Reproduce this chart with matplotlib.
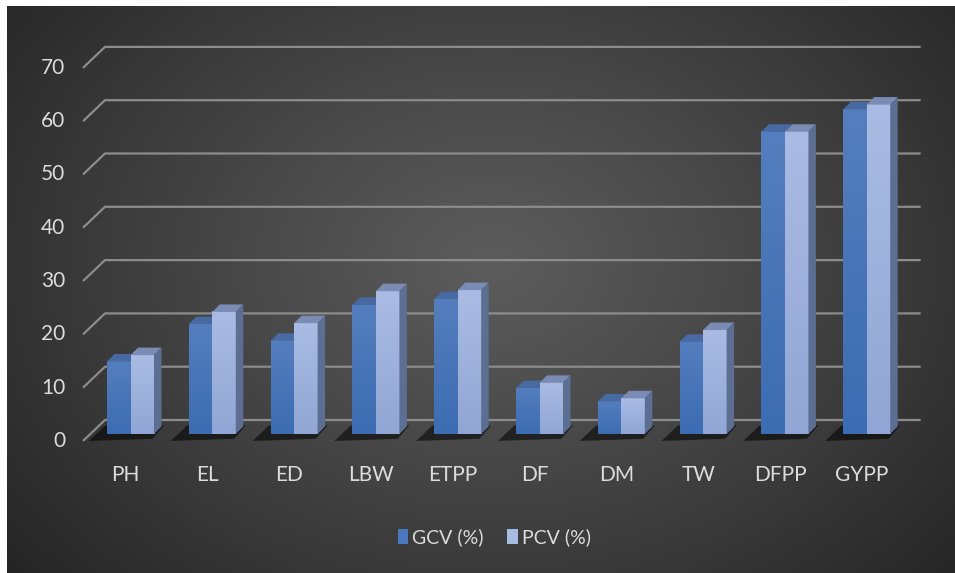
import matplotlib.pyplot as plt
import numpy as np
from matplotlib.patches import Polygon, Patch

categories = ['PH', 'EL', 'ED', 'LBW', 'ETPP', 'DF', 'DM', 'TW', 'DFPP', 'GYPP']
gcv = [13.6, 20.6, 17.5, 24.2, 25.3, 8.6, 6.1, 17.3, 56.7, 60.9]
pcv = [14.8, 22.9, 20.8, 26.8, 27.0, 9.6, 6.7, 19.5, 56.7, 61.8]
yticks = [0, 10, 20, 30, 40, 50, 60, 70]

font = ['Lato', 'DejaVu Sans']
txt = '#dcdcdc'

W, H = 955, 573
fig = plt.figure(figsize=(W / 100, H / 100), dpi=100, facecolor='white')

# dark radial backdrop
bg = fig.add_axes([7 / W, -0.01, 1.02 - 7 / W, 1.01 - 6 / H])
yy, xx = np.mgrid[0:1:300j, 0:1:500j]
r = np.sqrt(((xx - 0.5) / 0.62) ** 2 + ((yy - 0.45) / 0.8) ** 2)
val = 92 - 52 * np.clip(r, 0, 1.1) ** 1.1
bg.imshow(np.dstack([val, val, val]).astype(np.uint8), aspect='auto',
          extent=(0, 1, 0, 1), origin='upper', interpolation='bicubic')
bg.set_xlim(0, 1)
bg.set_ylim(0, 1)
bg.axis('off')

ax = fig.add_axes([0, 0, 1, 1], facecolor='none')
px_x, px_y = 81.8, 5.33           # pixels per category / per value unit
x0_px, y0_px = 130.5, 434         # first pair centre, bar floor
ax.axis('off')

bw = 23.5 / px_x                  # bar front width
ddx, ddy = 7.5 / px_x, 7.5 / px_y  # bar depth
bkx, bky = 14.7 / px_x, 14 / px_y  # back wall offset
frx, fry = -7.3 / px_x, -7 / px_y  # front edge offset

# gridlines: back wall plus the diagonal on the side wall
for v in yticks:
    ax.plot([-0.312 + frx - bkx, -0.312, 9.66], [v + fry, v + bky, v + bky],
            color='#8c8c8c', lw=1.6, zorder=1, solid_capstyle='butt')
    ax.text(-0.8, v + fry, str(v), ha='right', va='center', color=txt,
            fontsize=15, family=font)

x = np.arange(len(categories))

def rgb(c):
    return tuple(k / 255.0 for k in c)

def grad(c_top, c_bot, n=64):
    t = np.linspace(0, 1, n)[:, None]
    c = np.array(c_top)[None, :] * (1 - t) + np.array(c_bot)[None, :] * t
    return c[:, None, :] / 255.0

def bar3d(xl, v, top_c, bot_c, lid, side=None):
    ax.imshow(grad(top_c, bot_c), extent=(xl, xl + bw, 0, v),
              aspect='auto', origin='upper', zorder=4, interpolation='bilinear')
    ax.add_patch(Polygon([(xl, v), (xl + ddx, v + ddy), (xl + bw + ddx, v + ddy),
                          (xl + bw, v)], closed=True, fc=rgb(lid), ec='none', zorder=4))
    if side is not None:
        ax.add_patch(Polygon([(xl + bw, 0), (xl + bw, v), (xl + bw + ddx, v + ddy),
                              (xl + bw + ddx, ddy)], closed=True, fc=rgb(side),
                             ec='none', zorder=4))

for i in x:
    xl = i - bw
    # shadow on the floor
    ax.add_patch(Polygon([(xl - 0.02, ddy + 0.2), (xl + 2 * bw + ddx + 0.03, ddy + 0.2),
                          (xl + 2 * bw - 0.02, -0.9), (xl - 0.22, -1.3)],
                         closed=True, fc='black', alpha=0.55, ec='none', zorder=2))
    bar3d(xl, gcv[i], (84, 126, 190), (60, 108, 178), (72, 106, 162))
    bar3d(i, pcv[i], (170, 188, 228), (145, 166, 212), (122, 140, 180),
          side=(92, 110, 146))
    ax.text(i - 0.06, -7.7, categories[i], ha='center', va='center', color=txt,
            fontsize=15, family=font)

ax.set_xlim(-x0_px / px_x, (W - x0_px) / px_x)
ax.set_ylim((y0_px - H) / px_y, y0_px / px_y)

handles = [Patch(fc='#4a78be', ec='none', label='GCV (%)'),
           Patch(fc='#a6bce2', ec='none', label='PCV (%)')]
fig.legend(handles=handles, loc='center', bbox_to_anchor=(494 / W, 1 - 537 / H),
           ncol=2, frameon=False, handlelength=0.55, handleheight=0.8,
           handletextpad=0.2, columnspacing=1.2,
           prop={'family': font, 'size': 14}, labelcolor=txt)

fig.savefig('out.png', dpi=100, facecolor='white')
